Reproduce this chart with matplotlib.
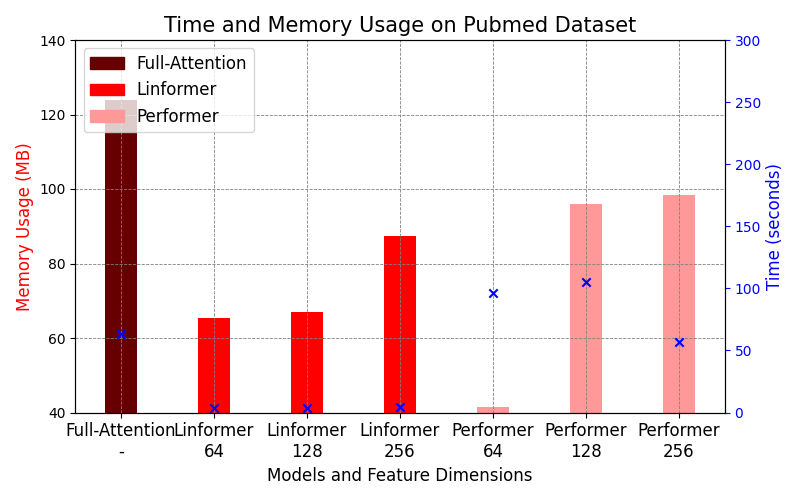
import numpy as np
import matplotlib
matplotlib.use("Agg")
import matplotlib.pyplot as plt
from matplotlib.patches import Patch

# data
labels = ["Full-Attention\n-", "Linformer\n64", "Linformer\n128", "Linformer\n256",
          "Performer\n64", "Performer\n128", "Performer\n256"]
memory_mb = [123.9, 65.4, 67.0, 87.4, 41.5, 96.0, 98.4]
time_s = [63.2, 3.9, 3.9, 4.4, 96.0, 105.3, 56.5]
models = ["Full-Attention", "Linformer", "Linformer", "Linformer",
          "Performer", "Performer", "Performer"]
model_colors = {"Full-Attention": "#660000", "Linformer": "#ff0000", "Performer": "#ff9999"}

fig, ax = plt.subplots(figsize=(8, 5), dpi=100)
x = np.arange(len(labels))
colors = [model_colors[m] for m in models]
ax.bar(x, memory_mb, width=0.35, color=colors)
ax.set_ylim(40, 140)
ax.set_xticks(x)
ax.set_xticklabels(labels, fontsize=12)
ax.set_xlabel("Models and Feature Dimensions", fontsize=12)
ax.set_ylabel("Memory Usage (MB)", color="red", fontsize=12)
ax.grid(True, linestyle="--", color="gray", linewidth=0.6)
ax.set_title("Time and Memory Usage on Pubmed Dataset", fontsize=15)

ax2 = ax.twinx()
ax2.scatter(x, time_s, marker="x", color="blue")
ax2.set_ylim(0, 300)
ax2.set_ylabel("Time (seconds)", color="blue", fontsize=12)
ax2.tick_params(axis="y", colors="blue")

handles = [Patch(color=model_colors[k], label=k) for k in model_colors]
ax2.legend(handles=handles, loc="upper left", fontsize=12)

fig.subplots_adjust(left=0.094, right=0.906, top=0.92, bottom=0.175)
fig.savefig("out.png")
